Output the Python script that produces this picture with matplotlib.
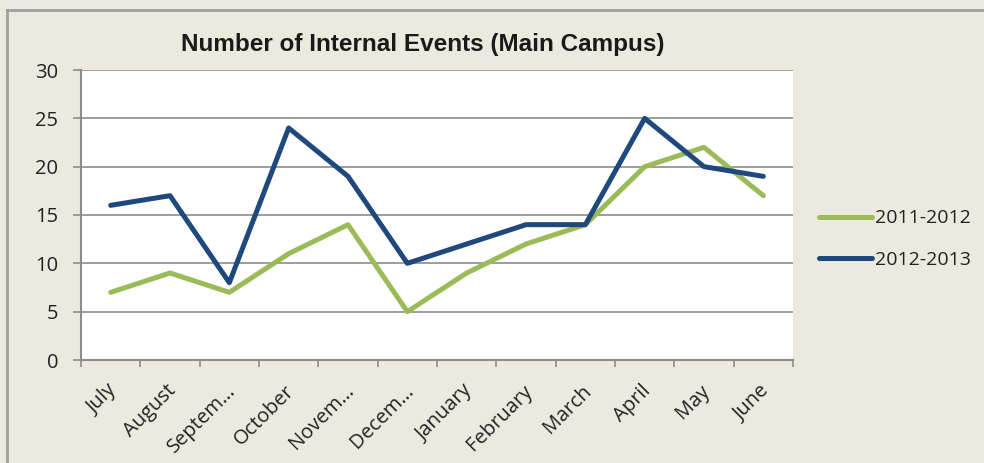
import matplotlib
matplotlib.use("Agg")
import matplotlib.pyplot as plt
from matplotlib.lines import Line2D
from matplotlib.transforms import ScaledTranslation

months = ["July", "August", "Septem…", "October", "Novem…", "Decem…",
          "January", "February", "March", "April", "May", "June"]
series_2011 = [7, 9, 7, 11, 14, 5, 9, 12, 14, 20, 22, 17]
series_2012 = [16, 17, 8, 24, 19, 10, 12, 14, 14, 25, 20, 19]
labels = ["2011-2012", "2012-2013"]
y_ticks = [0, 5, 10, 15, 20, 25, 30]

W, H = 984, 463
bg = "#ECE9DF"
grid_c = "#8C8C8C"
green = "#9BBB59"
blue = "#1F497D"
txt_c = "#222222"
FS = 14.5

fig = plt.figure(figsize=(W / 100, H / 100), dpi=100)
fig.patch.set_facecolor(bg)

# outer frame (top and left edges visible)
fig.add_artist(Line2D([7 / W, 1.0], [1 - 10 / H, 1 - 10 / H], transform=fig.transFigure,
                      color="#A0A0A0", lw=2))
fig.add_artist(Line2D([7 / W, 7 / W], [0, 1 - 10 / H], transform=fig.transFigure,
                      color="#A0A0A0", lw=2))

left, right, top, bottom = 81, 793, 70, 360
ax = fig.add_axes([left / W, 1 - bottom / H, (right - left) / W, (bottom - top) / H])
ax.set_facecolor("white")

x = list(range(len(months)))
ax.plot(x, series_2011, color=green, lw=3.6, solid_capstyle="round", label=labels[0], zorder=3)
ax.plot(x, series_2012, color=blue, lw=3.6, solid_capstyle="round", label=labels[1], zorder=4)

ax.set_xlim(-0.5, len(months) - 0.5)
ax.set_ylim(0, 30)
ax.set_yticks(y_ticks)
ax.yaxis.grid(True, color=grid_c, lw=1.2)
ax.set_axisbelow(True)

ax.set_xticks([i - 0.5 for i in range(len(months) + 1)], minor=False)
ax.set_xticklabels([""] * (len(months) + 1))
ax.set_xticks(x, minor=True)
ax.set_xticklabels(months, minor=True, rotation=45, ha="right", rotation_mode="anchor",
                   fontsize=FS, family="Open Sans", color=txt_c)
ax.tick_params(axis="x", which="minor", length=0, pad=15)
ax.tick_params(axis="x", which="major", length=5, color=grid_c, width=1.2)
ax.tick_params(axis="y", length=5.5, color=grid_c, width=1.2, pad=11)
shift = ScaledTranslation(-0.04, 0, fig.dpi_scale_trans)
for lbl in ax.get_xticklabels(minor=True):
    lbl.set_transform(lbl.get_transform() + shift)
for lbl in ax.get_yticklabels():
    lbl.set_fontsize(FS)
    lbl.set_family("Open Sans")
    lbl.set_color(txt_c)

for s in ["top", "right"]:
    ax.spines[s].set_visible(False)
for s in ["left", "bottom"]:
    ax.spines[s].set_color(grid_c)
    ax.spines[s].set_linewidth(1.5)

fig.text(423 / W, 1 - 44 / H, "Number of Internal Events (Main Campus)", ha="center", va="center",
         fontsize=17.5, fontweight="bold", family="Liberation Sans", color="#1a1a1a")

leg = ax.legend(loc="center left", bbox_to_anchor=(1 + 26 / 712, 0.417), frameon=False,
                prop={"family": "Open Sans", "size": 14}, borderpad=0, borderaxespad=0,
                handlelength=2.7, handletextpad=0.2, labelspacing=1.2)
for t in leg.get_texts():
    t.set_color(txt_c)

fig.savefig("out.png", dpi=100, facecolor=bg)
